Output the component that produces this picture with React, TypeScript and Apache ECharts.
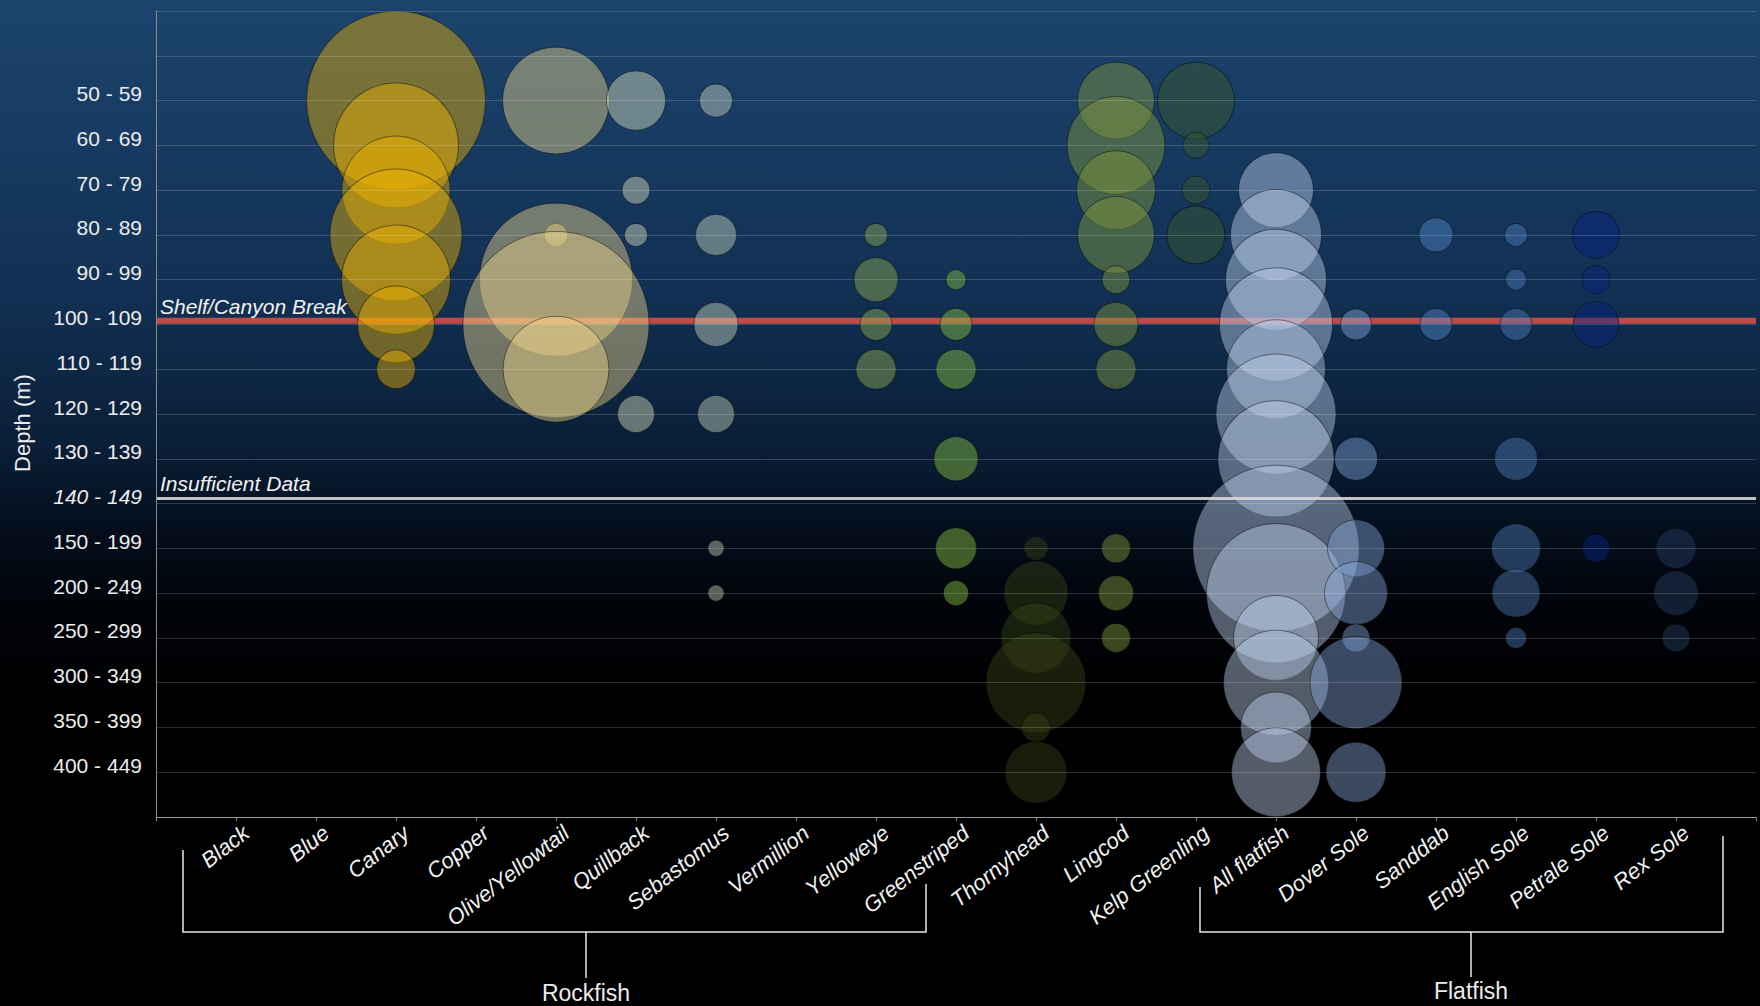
import React, { useEffect, useRef } from "react";
import * as echarts from "echarts";

// ---- categories ----
const depthBins = [
  "50 - 59", "60 - 69", "70 - 79", "80 - 89", "90 - 99", "100 - 109",
  "110 - 119", "120 - 129", "130 - 139", "140 - 149", "150 - 199",
  "200 - 249", "250 - 299", "300 - 349", "350 - 399", "400 - 449",
];
const species = [
  "Black", "Blue", "Canary", "Copper", "Olive/Yellowtail", "Quillback",
  "Sebastomus", "Vermillion", "Yelloweye", "Greenstriped", "Thornyhead",
  "Lingcod", "Kelp Greenling", "All flatfish", "Dover Sole", "Sanddab",
  "English Sole", "Petrale Sole", "Rex Sole",
];
const insufficientBin = "140 - 149";

// ---- relative abundance per depth bin (same order as depthBins) ----
const _ = null;
const black = [_, _, _, _, _, _, _, _, _, _, _, _, _, _, _, _];
const blue = [_, _, _, _, _, _, _, _, _, _, _, _, _, _, _, _];
const canary = [320, 156, 117, 174, 119, 59, 15, _, _, _, _, _, _, _, _, _];
const copper = [_, _, _, _, _, _, _, _, _, _, _, _, _, _, _, _];
const oliveYellowtail = [114, _, _, 5.3, 234, 346, 112, _, _, _, _, _, _, _, _, _];
const quillback = [35, _, 7.8, 5.3, _, _, _, 13.7, _, _, _, _, _, _, _, _];
const sebastomus = [10.9, _, _, 16.8, _, 19.4, _, 13.7, _, _, 2.6, 2.6, _, _, _, _];
const vermillion = [_, _, _, _, _, _, _, _, _, _, _, _, _, _, _, _];
const yelloweye = [_, _, _, 5.3, 19.4, 10.2, 16, _, _, _, _, _, _, _, _, _];
const greenstriped = [_, _, _, _, 4, 10.2, 16, _, 19.4, _, 16.8, 6.3, _, _, _, _];
const thornyhead = [_, _, _, _, _, _, _, _, _, _, 5.8, 41, 49, 100, 8.4, 38.4];
const lingcod = [59, 96, 62, 59, 7.8, 19.4, 16, _, _, _, 8.4, 12.3, 8.4, _, _, _];
const kelpGreenling = [59, 6.8, 7.8, 33.6, _, _, _, _, _, _, _, _, _, _, _, _];
const allFlatfish = [_, _, 56, 83, 102, 128, 98, 144, 135, _, 276, 193, 72, 110, 50, 79];
const doverSole = [_, _, _, _, _, 9.6, _, _, 18.5, _, 32.5, 39.7, 7.8, 84.6, _, 36];
const sanddab = [_, _, _, 11.6, _, 10.2, _, _, _, _, _, _, _, _, _, _];
const englishSole = [_, _, _, 5.3, 4.4, 10.2, _, _, 18.5, _, 24, 23, 4.4, _, _, _];
const petraleSole = [_, _, _, 22, 7.8, 21, _, _, _, _, 7.8, _, _, _, _, _];
const rexSole = [_, _, _, _, _, _, _, _, _, _, 16, 20, 7.8, _, _, _];

const speciesValues = [
  black, blue, canary, copper, oliveYellowtail, quillback, sebastomus,
  vermillion, yelloweye, greenstriped, thornyhead, lingcod, kelpGreenling,
  allFlatfish, doverSole, sanddab, englishSole, petraleSole, rexSole,
];

// ---- styling ----
const speciesColors = [
  "rgba(240,180,0,0.55)", "rgba(240,180,0,0.55)", "rgba(240,180,0,0.55)",
  "rgba(240,180,0,0.55)", "rgba(240,215,140,0.55)", "rgba(221,227,192,0.55)",
  "rgba(200,216,188,0.55)", "rgba(200,216,188,0.55)", "rgba(138,168,80,0.6)",
  "rgba(130,185,63,0.6)", "rgba(58,69,22,0.55)", "rgba(128,151,58,0.58)",
  "rgba(58,88,40,0.58)", "rgba(191,209,236,0.55)", "rgba(131,167,218,0.55)",
  "rgba(87,138,205,0.55)", "rgba(79,125,184,0.55)", "rgba(8,36,127,0.6)",
  "rgba(40,64,100,0.55)",
];

// reference lines (in depth-row units on the y axis)
const shelfBreakRow = 6.92;
const insufficientRow = 10.875;

const ROW_OFFSET = 2; // first depth bin sits on row 2
const FONT = "Liberation Sans, Arial, sans-serif";

export default function App() {
  const ref = useRef<HTMLDivElement>(null);

  useEffect(() => {
    document.body.style.margin = "0";
    if (!ref.current) return;
    const chart = echarts.init(ref.current, null, { renderer: "svg" });
    const xMax = species.length + 1;

    const bubbleSeries = species.map((name, si) => ({
      name,
      type: "scatter",
      z: 2,
      silent: true,
      data: speciesValues[si]
        .map((v, di) => (v == null ? null : [si + 1, di + ROW_OFFSET, v]))
        .filter((d) => d !== null),
      symbolSize: (d: number[]) => Math.sqrt(d[2]) * 10,
      itemStyle: {
        color: speciesColors[si],
        borderColor: "rgba(0,0,0,0.55)",
        borderWidth: 1,
      },
    }));

    const textColor = "#ececec";
    const lineLabel = (text: string) => ({
      show: true,
      position: "insideStartTop",
      formatter: text,
      color: "#f2f2f2",
      fontStyle: "italic",
      fontSize: 21,
      fontFamily: FONT,
      distance: 4,
    });

    chart.setOption({
      animation: false,
      backgroundColor: {
        type: "linear",
        x: 0, y: 0, x2: 0, y2: 1,
        colorStops: [
          { offset: 0, color: "#1c446c" },
          { offset: 0.12, color: "#183c63" },
          { offset: 0.3, color: "#112f52" },
          { offset: 0.44, color: "#0a1f38" },
          { offset: 0.52, color: "#040f1e" },
          { offset: 0.6, color: "#01040a" },
          { offset: 0.7, color: "#000000" },
          { offset: 1, color: "#000000" },
        ],
      },
      grid: { left: 156, right: 4, top: 11, bottom: 189, containLabel: false },
      xAxis: {
        type: "value",
        position: "bottom",
        min: 0,
        max: xMax,
        interval: 1,
        axisLine: { show: true, onZero: false, lineStyle: { color: "#8a8a8a", width: 1 } },
        axisTick: { show: true, length: 4, lineStyle: { color: "#8a8a8a" } },
        splitLine: { show: false },
        minorTick: { show: false },
        axisLabel: {
          formatter: (v: number) => species[v - 1] ?? "",
          rotate: 38,
          margin: 21,
          padding: [0, -13, 0, 0],
          color: "#f2f2f2",
          fontStyle: "italic",
          fontSize: 22,
          fontFamily: FONT,
          hideOverlap: false,
        },
      },
      yAxis: {
        type: "value",
        inverse: true,
        min: 0,
        max: depthBins.length + ROW_OFFSET,
        interval: 1,
        z: 10,
        axisLine: { show: true, onZero: false, lineStyle: { color: "#8a8a8a", width: 1 } },
        axisTick: { show: false },
        splitLine: { show: true, lineStyle: { color: "rgba(255,255,255,0.17)", width: 1 } },
        axisLabel: {
          formatter: (v: number) => {
            const lbl = depthBins[v - ROW_OFFSET];
            if (!lbl) return "";
            return lbl === insufficientBin ? `{it|${lbl}}` : lbl;
          },
          margin: 14,
          padding: [0, 0, 14, 0],
          color: textColor,
          fontSize: 21,
          fontFamily: FONT,
          rich: {
            it: { fontStyle: "italic", fontSize: 21, color: textColor, fontFamily: FONT },
          },
        },
      },
      series: [
        // shelf/canyon break line, drawn underneath the bubbles
        {
          type: "line",
          z: 1,
          silent: true,
          symbol: "none",
          data: [[0, shelfBreakRow], [xMax, shelfBreakRow]],
          lineStyle: { color: "rgba(225,80,70,0.85)", width: 6 },
        },
        ...bubbleSeries,
        {
          type: "scatter",
          z: 3,
          silent: true,
          symbolSize: 0,
          data: [[0, 0]],
          markLine: {
            silent: true,
            symbol: "none",
            animation: false,
            data: [
              {
                yAxis: shelfBreakRow,
                lineStyle: { color: "rgba(0,0,0,0)", width: 6, type: "solid" },
                label: lineLabel("Shelf/Canyon Break"),
              },
              {
                yAxis: insufficientRow,
                lineStyle: { color: "rgba(215,215,215,0.9)", width: 3, type: "solid" },
                label: lineLabel("Insufficient Data"),
              },
            ],
          },
        },
      ],
      graphic: [
        {
          type: "text",
          x: 22,
          y: 423,
          rotation: Math.PI / 2,
          style: {
            text: "Depth (m)",
            fill: textColor,
            fontSize: 22,
            fontFamily: FONT,
            align: "center",
            verticalAlign: "middle",
          },
        },
        // Rockfish bracket
        { type: "polyline", shape: { points: [[183, 850], [183, 932], [926, 932], [926, 884]] }, style: { stroke: "#e8e8e8", lineWidth: 1.5, fill: null } },
        { type: "line", shape: { x1: 586, y1: 932, x2: 586, y2: 978 }, style: { stroke: "#e8e8e8", lineWidth: 1.5 } },
        { type: "text", x: 586, y: 993, style: { text: "Rockfish", fill: textColor, fontSize: 23, fontFamily: FONT, align: "center", verticalAlign: "middle" } },
        // Flatfish bracket
        { type: "polyline", shape: { points: [[1200, 887], [1200, 932], [1723, 932], [1723, 836]] }, style: { stroke: "#e8e8e8", lineWidth: 1.5, fill: null } },
        { type: "line", shape: { x1: 1471, y1: 932, x2: 1471, y2: 977 }, style: { stroke: "#e8e8e8", lineWidth: 1.5 } },
        { type: "text", x: 1471, y: 991, style: { text: "Flatfish", fill: textColor, fontSize: 23, fontFamily: FONT, align: "center", verticalAlign: "middle" } },
      ],
    });

    return () => chart.dispose();
  }, []);

  return <div ref={ref} style={{ width: 1760, height: 1006 }} />;
}
